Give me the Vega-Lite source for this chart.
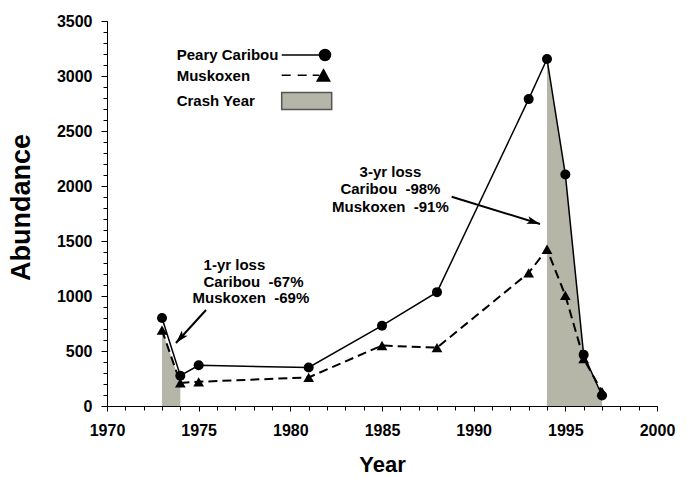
{
  "$schema": "https://vega.github.io/schema/vega-lite/v6.json",
  "width": 550,
  "height": 385,
  "autosize": {"type": "none"},
  "padding": {"left": 107, "top": 21, "right": 33, "bottom": 71},
  "background": "white",
  "config": {"view": {"stroke": null}, "font": "Liberation Sans", "axis": {"grid": false}},
  "datasets": {
    "obs": [
      {"year": 1973, "species": "Peary Caribou", "abundance": 800},
      {"year": 1974, "species": "Peary Caribou", "abundance": 275},
      {"year": 1975, "species": "Peary Caribou", "abundance": 370},
      {"year": 1981, "species": "Peary Caribou", "abundance": 350},
      {"year": 1985, "species": "Peary Caribou", "abundance": 730},
      {"year": 1988, "species": "Peary Caribou", "abundance": 1035},
      {"year": 1993, "species": "Peary Caribou", "abundance": 2790},
      {"year": 1994, "species": "Peary Caribou", "abundance": 3155},
      {"year": 1995, "species": "Peary Caribou", "abundance": 2105},
      {"year": 1996, "species": "Peary Caribou", "abundance": 465},
      {"year": 1997, "species": "Peary Caribou", "abundance": 95},
      {"year": 1973, "species": "Muskoxen", "abundance": 690},
      {"year": 1974, "species": "Muskoxen", "abundance": 210},
      {"year": 1975, "species": "Muskoxen", "abundance": 220},
      {"year": 1981, "species": "Muskoxen", "abundance": 260},
      {"year": 1985, "species": "Muskoxen", "abundance": 550},
      {"year": 1988, "species": "Muskoxen", "abundance": 530},
      {"year": 1993, "species": "Muskoxen", "abundance": 1210},
      {"year": 1994, "species": "Muskoxen", "abundance": 1425},
      {"year": 1995, "species": "Muskoxen", "abundance": 1005},
      {"year": 1996, "species": "Muskoxen", "abundance": 430},
      {"year": 1997, "species": "Muskoxen", "abundance": 130}
    ],
    "crash": [
      {"segment": "1973-74", "year": 1973, "abundance": 690},
      {"segment": "1973-74", "year": 1974, "abundance": 210},
      {"segment": "1994-97", "year": 1994, "abundance": 3155},
      {"segment": "1994-97", "year": 1995, "abundance": 2105},
      {"segment": "1994-97", "year": 1996, "abundance": 465},
      {"segment": "1994-97", "year": 1997, "abundance": 95}
    ],
    "notes": [
      {"label": "1-yr loss", "year": 1976.95, "abundance": 1282},
      {"label": "Caribou \u00a0-67%", "year": 1977.99, "abundance": 1130},
      {"label": "Muskoxen \u00a0-69%", "year": 1977.85, "abundance": 982},
      {"label": "3-yr loss", "year": 1985.46, "abundance": 2130},
      {"label": "Caribou \u00a0-98%", "year": 1985.46, "abundance": 1970},
      {"label": "Muskoxen \u00a0-91%", "year": 1985.46, "abundance": 1806}
    ],
    "arrows": [
      {"id": "a1", "x1": 1975.40, "y1": 873, "x2": 1973.76, "y2": 573},
      {"id": "a2", "x1": 1988.80, "y1": 1903, "x2": 1993.62, "y2": 1655}
    ],
    "keys": [
      {"series": "Peary Caribou"},
      {"series": "Muskoxen"},
      {"series": "Crash Year"}
    ]
  },
  "layer": [
    {
      "data": {"name": "crash"},
      "mark": {"type": "area", "color": "#b5b5a8", "opacity": 1},
      "encoding": {
        "x": {"field": "year", "type": "quantitative",
          "scale": {"domain": [1970, 2000], "nice": false, "zero": false},
          "axis": {"orient": "bottom", "values": [1970,1971,1972,1973,1974,1975,1976,1977,1978,1979,1980,1981,1982,1983,1984,1985,1986,1987,1988,1989,1990,1991,1992,1993,1994,1995,1996,1997,1998,1999,2000],
            "labels": false, "domain": false, "tickSize": 4, "tickColor": "black", "title": null, "grid": false}},
        "y": {"field": "abundance", "type": "quantitative", "stack": null,
          "scale": {"domain": [0, 3500], "nice": false},
          "axis": {"orient": "left", "values": [0,100,200,300,400,500,600,700,800,900,1000,1100,1200,1300,1400,1500,1600,1700,1800,1900,2000,2100,2200,2300,2400,2500,2600,2700,2800,2900,3000,3100,3200,3300,3400,3500],
            "labels": false, "domain": false, "tickSize": 4, "tickColor": "black", "title": null, "grid": false}},
        "detail": {"field": "segment"}
      }
    },
    {
      "layer": [
        {
          "data": {"name": "obs"},
          "transform": [{"filter": "datum.species === 'Peary Caribou'"}],
          "mark": {"type": "line", "color": "black", "strokeWidth": 1.5},
          "encoding": {
            "x": {"field": "year", "type": "quantitative",
              "scale": {"domain": [1970, 2000], "nice": false, "zero": false},
              "axis": {"orient": "bottom", "values": [1970,1975,1980,1985,1990,1995,2000], "format": "d",
                "tickSize": 5, "tickColor": "black", "domainColor": "black", "domainWidth": 1,
                "labelFont": "Liberation Sans", "labelFontSize": 16, "labelFontWeight": "bold", "labelColor": "black",
                "labelPadding": 11, "labelFlush": false, "labelOverlap": false,
                "title": "Year", "titleFont": "Liberation Sans", "titleFontSize": 22, "titleFontWeight": "bold",
                "titleColor": "black", "titlePadding": 16, "grid": false}},
            "y": {"field": "abundance", "type": "quantitative",
              "scale": {"domain": [0, 3500], "nice": false},
              "axis": {"orient": "left", "values": [0,500,1000,1500,2000,2500,3000,3500], "format": "d",
                "tickSize": 6, "tickColor": "black", "domainColor": "black", "domainWidth": 1,
                "labelFont": "Liberation Sans", "labelFontSize": 16, "labelFontWeight": "bold", "labelColor": "black",
                "labelPadding": 9, "labelFlush": false, "labelOverlap": false,
                "title": "Abundance", "titleFont": "Liberation Sans", "titleFontSize": 27, "titleFontWeight": "bold",
                "titleColor": "black", "titlePadding": 21, "titleY": 186, "grid": false}}
          }
        },
        {
          "data": {"name": "obs"},
          "transform": [{"filter": "datum.species === 'Muskoxen'"}],
          "mark": {"type": "line", "color": "black", "strokeWidth": 2, "strokeDash": [9, 5]},
          "encoding": {
            "x": {"field": "year", "type": "quantitative"},
            "y": {"field": "abundance", "type": "quantitative"}
          }
        },
        {
          "data": {"name": "obs"},
          "transform": [{"filter": "datum.species === 'Peary Caribou'"}],
          "mark": {"type": "point", "shape": "circle", "size": 100, "filled": true, "color": "black", "opacity": 1},
          "encoding": {
            "x": {"field": "year", "type": "quantitative"},
            "y": {"field": "abundance", "type": "quantitative"}
          }
        },
        {
          "data": {"name": "obs"},
          "transform": [{"filter": "datum.species === 'Muskoxen'"}],
          "mark": {"type": "point", "shape": "triangle-up", "size": 115, "filled": true, "color": "black", "opacity": 1},
          "encoding": {
            "x": {"field": "year", "type": "quantitative"},
            "y": {"field": "abundance", "type": "quantitative"}
          }
        },
        {
          "data": {"name": "arrows"},
          "mark": {"type": "rule", "color": "black", "strokeWidth": 2},
          "encoding": {
            "x": {"field": "x1", "type": "quantitative"},
            "y": {"field": "y1", "type": "quantitative"},
            "x2": {"field": "x2"},
            "y2": {"field": "y2"}
          }
        },
        {
          "data": {"name": "arrows"},
          "transform": [{"filter": "datum.id === 'a1'"}],
          "mark": {"type": "point", "shape": "M0,0L0.65,2.2L0,1.7L-0.65,2.2Z", "size": 144, "angle": 222, "filled": true, "color": "black", "opacity": 1},
          "encoding": {
            "x": {"field": "x2", "type": "quantitative"},
            "y": {"field": "y2", "type": "quantitative"}
          }
        },
        {
          "data": {"name": "arrows"},
          "transform": [{"filter": "datum.id === 'a2'"}],
          "mark": {"type": "point", "shape": "M0,0L0.65,2.2L0,1.7L-0.65,2.2Z", "size": 144, "angle": 107, "filled": true, "color": "black", "opacity": 1},
          "encoding": {
            "x": {"field": "x2", "type": "quantitative"},
            "y": {"field": "y2", "type": "quantitative"}
          }
        },
        {
          "data": {"name": "notes"},
          "mark": {"type": "text", "font": "Liberation Sans", "fontSize": 15, "fontWeight": "bold", "color": "black", "align": "center", "baseline": "middle"},
          "encoding": {
            "x": {"field": "year", "type": "quantitative"},
            "y": {"field": "abundance", "type": "quantitative"},
            "text": {"field": "label"}
          }
        },
        {
          "data": {"name": "keys"},
          "mark": {"type": "point", "filled": true, "strokeWidth": 1.5, "opacity": 1},
          "encoding": {
            "x": {"field": "year", "type": "quantitative"},
            "y": {"field": "abundance", "type": "quantitative"},
            "shape": {"field": "series", "type": "nominal",
              "scale": {"domain": ["Peary Caribou", "Muskoxen", "Crash Year"],
                "range": [
                  "M-2.5,-0.85M-2.5,0.55M-2.5,0L1.28,0M2.38,0A0.55,0.55,0,1,1,1.28,0A0.55,0.55,0,1,1,2.38,0Z",
                  "M-2.5,-0.85M-2.5,0.92M-2.5,-0.07L-1.6,-0.07M-0.9,-0.07L0,-0.07M0.6,-0.07L1.25,-0.07M1.68,-0.63L2.3,0.5L1.05,0.5Z",
                  "M-2.5,-0.85L2.5,-0.85L2.5,0.85L-2.5,0.85Z"
                ]},
              "legend": {"title": null, "orient": "none", "legendX": 188.7, "legendY": 23, "direction": "vertical",
                "symbolSize": 400, "symbolStrokeWidth": 1.5, "labelFont": "Liberation Sans", "labelFontSize": 15,
                "labelFontWeight": "bold", "labelColor": "black", "labelAlign": "left", "labelOffset": -141,
                "rowPadding": 0, "padding": 0, "symbolOffset": 0, "labelLimit": 300}},
            "fill": {"field": "series", "type": "nominal",
              "scale": {"domain": ["Peary Caribou", "Muskoxen", "Crash Year"], "range": ["black", "black", "#b5b5a8"]},
              "legend": {"title": null, "orient": "none", "legendX": 188.7, "legendY": 23, "direction": "vertical",
                "symbolSize": 400, "symbolStrokeWidth": 1.5, "labelFont": "Liberation Sans", "labelFontSize": 15,
                "labelFontWeight": "bold", "labelColor": "black", "labelAlign": "left", "labelOffset": -141,
                "rowPadding": 0, "padding": 0, "symbolOffset": 0, "labelLimit": 300}},
            "stroke": {"field": "series", "type": "nominal",
              "scale": {"domain": ["Peary Caribou", "Muskoxen", "Crash Year"], "range": ["black", "black", "#555555"]},
              "legend": {"title": null, "orient": "none", "legendX": 188.7, "legendY": 23, "direction": "vertical",
                "symbolSize": 400, "symbolStrokeWidth": 1.5, "labelFont": "Liberation Sans", "labelFontSize": 15,
                "labelFontWeight": "bold", "labelColor": "black", "labelAlign": "left", "labelOffset": -141,
                "rowPadding": 0, "padding": 0, "symbolOffset": 0, "labelLimit": 300}}
          }
        }
      ]
    }
  ],
  "resolve": {"axis": {"x": "independent", "y": "independent"}}
}
